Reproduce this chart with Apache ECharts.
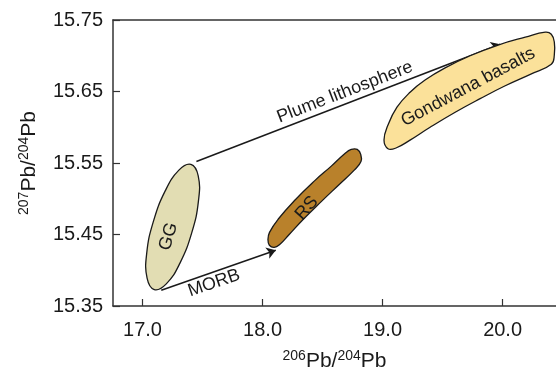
<!DOCTYPE html>
<html>
<head>
<meta charset="utf-8">
<script src="https://cdn.jsdelivr.net/npm/echarts@6/dist/echarts.min.js"></script>
<style>
  html, body { margin: 0; padding: 0; background: #fff; }
  #chart { width: 556px; height: 368px; }
</style>
</head>
<body>
<div id="chart"></div>
<script>
// axis ticks
const xTicks = [17.0, 18.0, 19.0, 20.0]
const yTicks = [15.35, 15.45, 15.55, 15.65, 15.75]

// field outlines (206Pb/204Pb, 207Pb/204Pb)
const ggOutline = [
    [17.403, 15.548], [17.464, 15.532], [17.466, 15.497], [17.411, 15.453],
    [17.312, 15.410], [17.198, 15.381], [17.098, 15.373], [17.038, 15.389],
    [17.035, 15.424], [17.090, 15.468], [17.189, 15.511], [17.303, 15.540]
]
const rsOutline = [
    [18.058, 15.453], [18.133, 15.472], [18.275, 15.499], [18.433, 15.525],
    [18.575, 15.546], [18.684, 15.563], [18.739, 15.569], [18.789, 15.569],
    [18.818, 15.562], [18.820, 15.552], [18.764, 15.540], [18.639, 15.520],
    [18.489, 15.496], [18.338, 15.471], [18.222, 15.450], [18.143, 15.436],
    [18.097, 15.432], [18.057, 15.435], [18.045, 15.443]
]
const gondwanaOutline = [
    [19.012, 15.582], [19.045, 15.603], [19.120, 15.628], [19.229, 15.649],
    [19.354, 15.666], [19.521, 15.683], [19.730, 15.700], [19.963, 15.715],
    [20.189, 15.726], [20.356, 15.733], [20.406, 15.730], [20.431, 15.719],
    [20.431, 15.701], [20.406, 15.688], [20.231, 15.674], [20.022, 15.658],
    [19.813, 15.640], [19.605, 15.621], [19.396, 15.600], [19.229, 15.582],
    [19.112, 15.571], [19.045, 15.570]
]

// arrows
const plumeArrow = [[17.449, 15.552], [19.980, 15.716]]
const morbArrow = [[17.156, 15.372], [18.110, 15.428]]

// annotations
const labelNames = ['GG', 'RS', 'Gondwana basalts', 'Plume lithosphere', 'MORB']
const labelPos = [[17.217, 15.447], [18.369, 15.487], [19.713, 15.656], [18.686, 15.649], [17.596, 15.382]]
const labelAngles = [73, 48, 28, 21, 19]

const font = '"Liberation Sans", Arial, Helvetica, sans-serif'
const ink = '#1a1a1a'

let chart = echarts.init(document.getElementById('chart'))

function outlineSeries(pts, fill) {
    return {
        type: 'custom',
        coordinateSystem: 'cartesian2d',
        data: [pts[0]],
        silent: true,
        renderItem: function (params, api) {
            return {
                type: 'polygon',
                shape: { points: pts.map(p => api.coord(p)), smooth: 0.45 },
                style: { fill: fill, stroke: ink, lineWidth: 1.3 }
            }
        }
    }
}

const nameRich = {
    s: { fontSize: 14, fontFamily: font, color: ink, padding: [0, 0, 10, 0] },
    n: { fontSize: 21, fontFamily: font, color: ink }
}

let options = {
    animation: false,
    grid: { left: 113, right: 0, top: 20, bottom: 62, outerBoundsMode: 'none', containLabel: false },
    xAxis: [{
        type: 'value',
        min: 16.754,
        max: 20.445,
        name: '{s|206}{n|Pb/}{s|204}{n|Pb}',
        nameLocation: 'middle',
        nameGap: 43,
        nameTextStyle: { fontFamily: font, color: ink, rich: nameRich },
        splitLine: { show: false },
        axisLine: { lineStyle: { color: '#333', width: 1.5 } },
        axisTick: { inside: true, length: 7, customValues: xTicks, lineStyle: { color: '#333', width: 1.2 } },
        axisLabel: {
            customValues: xTicks, margin: 14,
            fontSize: 20, fontFamily: font, color: ink,
            formatter: v => v.toFixed(1)
        }
    }, {
        type: 'value',
        position: 'top',
        min: 16.754,
        max: 20.445,
        splitLine: { show: false },
        axisLine: { show: true, lineStyle: { color: '#333', width: 1.5 } },
        axisTick: { show: false },
        axisLabel: { show: false }
    }],
    yAxis: {
        type: 'value',
        min: 15.35,
        max: 15.75,
        name: '{s|207}{n|Pb/}{s|204}{n|Pb}',
        nameLocation: 'middle',
        nameRotate: 90,
        nameGap: 72,
        nameTextStyle: { fontFamily: font, color: ink, rich: nameRich },
        splitLine: { show: false },
        axisLine: { show: true, lineStyle: { color: '#333', width: 1.5 } },
        axisTick: { show: true, inside: true, length: 7, customValues: yTicks, lineStyle: { color: '#333', width: 1.2 } },
        axisLabel: {
            customValues: yTicks, margin: 10,
            fontSize: 20, fontFamily: font, color: ink,
            formatter: v => v.toFixed(2)
        }
    },
    series: [
        {
            type: 'lines',
            coordinateSystem: 'cartesian2d',
            silent: true,
            symbol: ['none', 'arrow'],
            symbolSize: 9,
            lineStyle: { color: ink, width: 1.5, opacity: 1 },
            data: [{ coords: plumeArrow }, { coords: morbArrow }]
        },
        outlineSeries(ggOutline, '#e2ddb3'),
        outlineSeries(rsOutline, '#b9812b'),
        outlineSeries(gondwanaOutline, '#fbe19a'),
        {
            type: 'scatter',
            symbolSize: 0,
            silent: true,
            z: 5,
            itemStyle: { opacity: 1 },
            data: labelNames.map((n, i) => ({
                value: labelPos[i],
                label: { formatter: n, rotate: labelAngles[i] }
            })),
            label: {
                show: true,
                position: 'inside',
                align: 'center',
                verticalAlign: 'middle',
                fontSize: 18,
                fontFamily: font,
                color: ink,
                opacity: 1
            }
        }
    ]
}
options && chart.setOption(options)
</script>
</body>
</html>
